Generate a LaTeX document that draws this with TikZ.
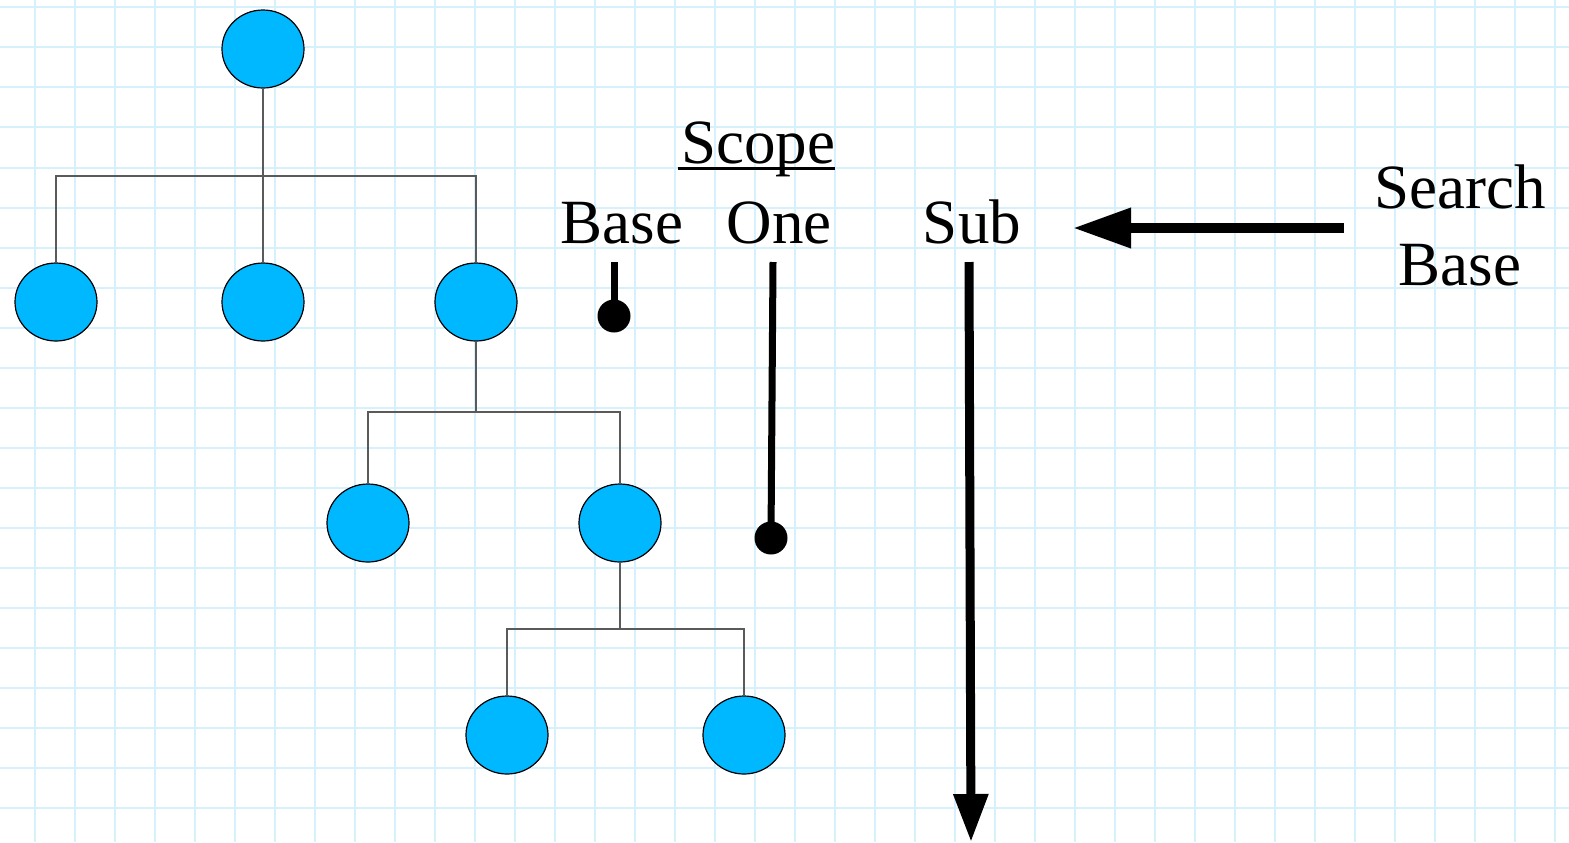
\documentclass[tikz,border=0pt]{standalone}
\usepackage{fontspec}
\setmainfont{Liberation Serif}
\usetikzlibrary{arrows.meta,shapes.geometric}
\definecolor{nodeblue}{RGB}{0,184,255}
\definecolor{gridblue}{RGB}{214,240,252}
\definecolor{linkgray}{RGB}{90,90,90}
\begin{document}
\begin{tikzpicture}[x=0.5pt,y=-0.5pt,
  tnode/.style={ellipse,draw=black,line width=0.6pt,fill=nodeblue,minimum width=41pt,minimum height=39pt,inner sep=0pt},
  link/.style={draw=linkgray,line width=0.75pt},
  lbl/.style={inner sep=0pt,anchor=base,font=\fontsize{31.5}{38.5}\selectfont},
  dotend/.style={circle,fill=black,inner sep=0pt,minimum size=16.5pt},
  stem/.style={line width=3.5pt},
  bigarrow/.style={line width=5pt,-{Triangle[length=29pt,width=19pt]}},
  downarrow/.style={line width=4.5pt,-{Triangle[length=24pt,width=16.5pt]}}
]
\useasboundingbox (0,0) rectangle (1569,842);
\fill[white] (0,0) rectangle (1569,842);
% grid
\foreach \i in {0,...,38} {\draw[gridblue,line width=1pt] ({35+40*\i},0) -- ({35+40*\i},842);}
\foreach \j in {0,...,20} {\draw[gridblue,line width=1pt] (0,{7.3+40.05*\j}) -- (1569,{7.3+40.05*\j});}
% tree
\node[tnode] (r) at (263,49) {};
\node[tnode] (a) at (56,302) {};
\node[tnode] (b) at (263,302) {};
\node[tnode] (c) at (476,302) {};
\node[tnode] (d) at (368,523) {};
\node[tnode] (e) at (620,523) {};
\node[tnode] (f) at (507,735) {};
\node[tnode] (g) at (744,735) {};
\draw[link] (r.south) -- (263,176);
\draw[link] (a.north) -- (56,176) -- (476,176) -- (c.north);
\draw[link] (b.north) -- (263,176);
\draw[link] (c.south) -- (476,412);
\draw[link] (d.north) -- (368,412) -- (620,412) -- (e.north);
\draw[link] (e.south) -- (620,629);
\draw[link] (f.north) -- (507,629) -- (744,629) -- (g.north);
% labels
\node[lbl] (scope) at (758,163) {Scope};
\draw[line width=1.5pt] ([yshift=-2.5pt,xshift=-1.5pt]scope.base west) -- ([yshift=-2.5pt]scope.base east);
\node[lbl] (base) at (622,243) {Base};
\node[lbl] (one) at (779,243) {One};
\node[lbl] (sub) at (972,243) {Sub};
\node[lbl,align=center] (search) at (1460,285) {Search\\Base};
% scope markers
\node[dotend] (bdot) at (614,316) {};
\coordinate (btop) at (614,262);
\draw[stem] (btop) -- (bdot.center);
\node[dotend] (odot) at (771,538) {};
\coordinate (otop) at (773,262);
\draw[stem] (otop) -- (odot.center);
\coordinate (stop) at (969,262);
\coordinate (sbot) at (971,842);
\draw[downarrow] (stop) -- (sbot);
% search base arrow
\coordinate (hs) at (1344,228);
\coordinate (he) at (1073,228);
\draw[bigarrow] (hs) -- (he);
\end{tikzpicture}
\end{document}
